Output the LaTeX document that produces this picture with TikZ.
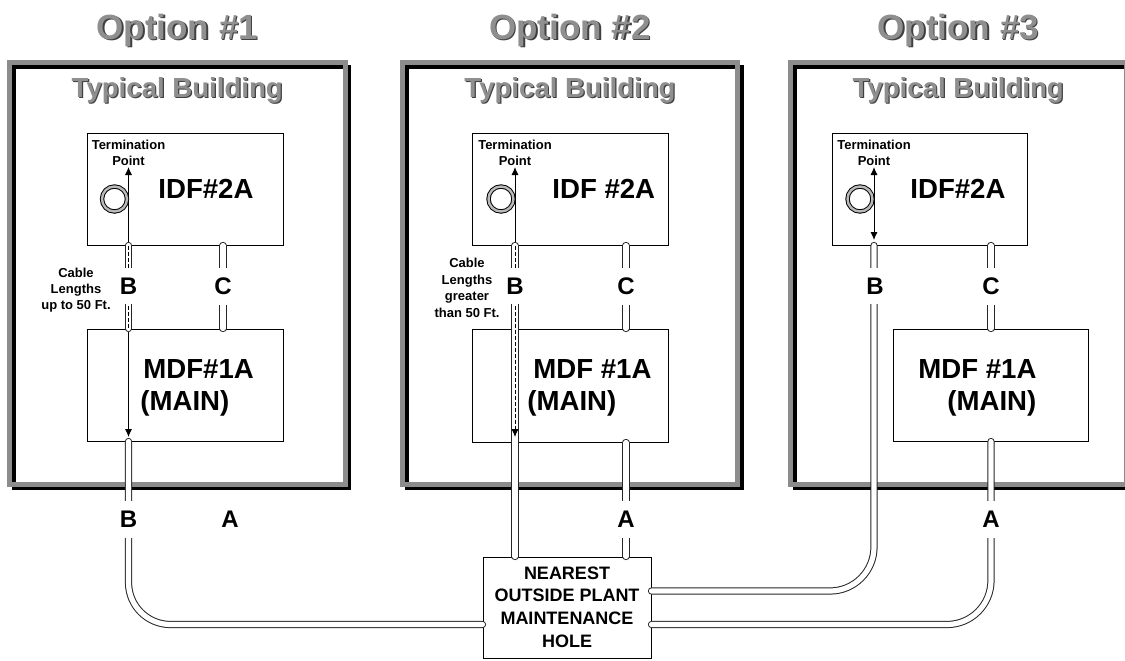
\documentclass[tikz,border=0pt]{standalone}
\usepackage{fontspec}
\setmainfont{Liberation Sans}
\usetikzlibrary{arrows.meta,fit}

\definecolor{framegray}{gray}{0.55}
\definecolor{titlegray}{gray}{0.56}

\tikzset{
  >={Latex[length=4pt,width=3.6pt]},
  building/.style={draw=framegray, line width=2.5pt},
  buildshadow/.style={draw=black, line width=1.75pt},
  titletext/.style={anchor=base, inner sep=0pt, text=titlegray, font=\fontsize{17.5}{21}\selectfont\bfseries},
  titleshadow/.style={titletext, text=black!75},
  headtext/.style={anchor=base, inner sep=0pt, text=titlegray, font=\fontsize{13.8}{16}\selectfont\bfseries},
  headshadow/.style={headtext, text=black!75},
  room/.style={draw=black, line width=0.5pt, inner sep=0pt},
  roomlabel/.style={anchor=base west, inner sep=0pt, font=\fontsize{13.8}{16}\selectfont\bfseries},
  conduit/.style={draw=black!85, line width=0.5pt, double=white, double distance=2.6pt, line cap=round},
  dashline/.style={black, line width=0.4pt, dash pattern=on 2pt off 1pt},
  pointer/.style={black, line width=0.5pt},
  cablelabel/.style={fill=white, inner xsep=1pt, inner ysep=5pt, font=\fontsize{12}{14}\selectfont\bfseries},
  smalltext/.style={align=center, inner sep=0pt, font=\fontsize{6.5}{8}\selectfont\bfseries},
  holetext/.style={align=center, inner sep=0pt, font=\fontsize{9}{11.3}\selectfont\bfseries},
  ring/.style={circle, draw=black, line width=0.5pt, double=gray!55, double distance=1.2pt, minimum size=12.5pt, inner sep=0pt},
}

\begin{document}
\begin{tikzpicture}[x=0.5pt, y=-0.5pt]
\useasboundingbox (0,0) rectangle (1125,660);
\clip (0,0) rectangle (1125,660);

% buildings and headings
\foreach \n/\xl/\xr in {1/9.5/345, 2/402.5/737.5, 3/790.5/1126} {
  \draw[buildshadow] (\xl+4.5,67) rectangle (\xr+4.5,488.5);
  \draw[building] (\xl,62.5) rectangle (\xr,484.5);
  \node[titleshadow] (optsh\n) at ({(\xl+\xr)/2+1.5},40.5) {Option \#\n};
  \node[titletext] (opt\n) at ({(\xl+\xr)/2},39) {Option \#\n};
  \node[headshadow] (headsh\n) at ({(\xl+\xr)/2+1.2},98.2) {Typical Building};
  \node[headtext] (head\n) at ({(\xl+\xr)/2},97) {Typical Building};
}

% rooms
\node[room, fit={(87,133) (283,245)}] (idf1) {};
\node[room, fit={(87,329) (283,441)}] (mdf1) {};
\node[room, fit={(472,133) (668,245)}] (idf2) {};
\node[room, fit={(472,329) (668,442)}] (mdf2) {};
\node[room, fit={(832,133) (1027,245)}] (idf3) {};
\node[room, fit={(893,329) (1088,441)}] (mdf3) {};
\node[room, fit={(483,557) (651,658)}] (hole) {};

\node[roomlabel] (idft1) at (158,198) {IDF\#2A};
\node[roomlabel] (idft2) at (552,198) {IDF \#2A};
\node[roomlabel] (idft3) at (910,198) {IDF\#2A};
\node[roomlabel] (mdft1) at (143,378) {MDF\#1A};
\node[roomlabel] (mdft2) at (533,378) {MDF \#1A};
\node[roomlabel] (mdft3) at (918,378) {MDF \#1A};
\node[roomlabel] (main1) at (140,410) {(MAIN)};
\node[roomlabel] (main2) at (527,410) {(MAIN)};
\node[roomlabel] (main3) at (947,410) {(MAIN)};
\node[holetext] (holet) at (567,607) {NEAREST\\OUTSIDE PLANT\\MAINTENANCE\\HOLE};

% conduit positions
\coordinate (b1) at (128.5,0);
\coordinate (c1) at (223,0);
\coordinate (b2) at (515,0);
\coordinate (c2) at (626,0);
\coordinate (b3) at (874,0);
\coordinate (c3) at (991,0);
\coordinate (hw) at ([yshift=-8.5pt]hole.west);
\coordinate (heu) at ([yshift=8.25pt]hole.east);
\coordinate (hel) at ([yshift=-8.5pt]hole.east);

% termination points
\coordinate (tp1) at (128.5,167);
\coordinate (te1) at (128.5,437);
\coordinate (tp2) at (515,167);
\coordinate (te2) at (515,437);
\coordinate (tp3) at (874,167);
\coordinate (te3) at (874,240);
\draw[pointer, <->] (tp1) -- (te1);
\draw[pointer, <-] (tp2) -- (idf2.south -| b2);
\draw[pointer, <->] (tp3) -- (te3);

% cables
\draw[conduit] (idf1.south -| b1) -- (mdf1.north -| b1);
\draw[conduit] (idf1.south -| c1) -- (mdf1.north -| c1);
\draw[conduit, rounded corners=21pt] (mdf1.south -| b1) |- (hw);
\draw[conduit] (idf2.south -| b2) -- (hole.north -| b2);
\draw[conduit] (idf2.south -| c2) -- (mdf2.north -| c2);
\draw[conduit] (mdf2.south -| c2) -- (hole.north -| c2);
\draw[conduit] (idf3.south -| c3) -- (mdf3.north -| c3);
\draw[conduit, rounded corners=22pt] (idf3.south -| b3) |- (heu);
\draw[conduit, rounded corners=22pt] (mdf3.south -| c3) |- (hel);

\draw[dashline] (idf1.south -| b1) -- (mdf1.north -| b1);
\draw[dashline, ->] (idf2.south -| b2) -- (te2);

% cable letters
\node[cablelabel] (lb1) at (128.5,286) {B};
\node[cablelabel] (lc1) at (223,286) {C};
\node[cablelabel] (lb2) at (515,286) {B};
\node[cablelabel] (lc2) at (626,286) {C};
\node[cablelabel] (lb3) at (875,286) {B};
\node[cablelabel] (lc3) at (991,286) {C};
\node[cablelabel] (lob1) at (128.5,519.5) {B};
\node[cablelabel] (loa1) at (230,519.5) {A};
\node[cablelabel] (loa2) at (626,519.5) {A};
\node[cablelabel] (loa3) at (991,519.5) {A};

% termination rings and notes
\node[ring] (ring1) at (114.5,199) {};
\node[ring] (ring2) at (501,199) {};
\node[ring] (ring3) at (860,199) {};
\node[smalltext] (tpt1) at (128.5,153) {Termination\\Point};
\node[smalltext] (tpt2) at (515,153) {Termination\\Point};
\node[smalltext] (tpt3) at (874,153) {Termination\\Point};
\node[smalltext] (len1) at (76,290) {Cable\\Lengths\\up to 50 Ft.};
\node[smalltext, font=\fontsize{6.5}{8.25}\selectfont\bfseries] (len2) at (467,288) {Cable\\Lengths\\greater\\than 50 Ft.};
\end{tikzpicture}
\end{document}
